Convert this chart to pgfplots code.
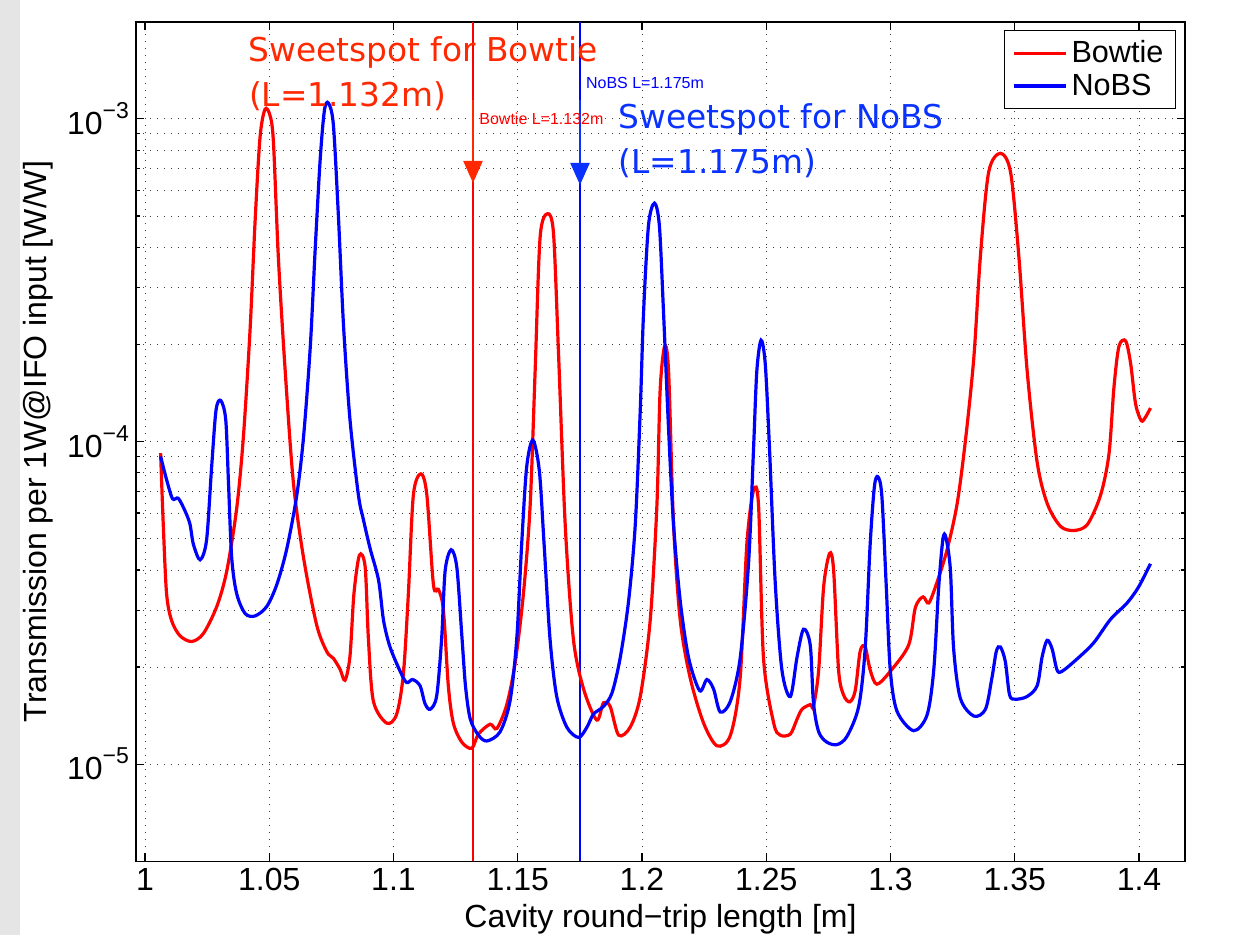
\documentclass[border=0pt]{standalone}
\usepackage{fontspec}
\setmainfont{Liberation Sans}
\newfontfamily\dejavu{DejaVu Sans}
\usepackage{pgfplots}
\pgfplotsset{compat=1.18}
\usetikzlibrary{arrows.meta}
\definecolor{annred}{RGB}{255,40,0}
\definecolor{annblue}{RGB}{10,50,255}
\begin{document}
\begin{tikzpicture}
\useasboundingbox (-68pt,-36.85pt) rectangle (550.5pt,430.65pt);
\fill[black!10] (-68pt,-36.85pt) rectangle (-58pt,430.65pt);
\begin{axis}[
  at={(0,0)}, anchor=south west,
  width=524.5pt, height=419.8pt, scale only axis,
  xmin=0.9964, xmax=1.4185, ymin=5e-6, ymax=2e-3, ymode=log,
  xtick={1,1.05,1.1,1.15,1.2,1.25,1.3,1.35,1.4},
  xticklabels={1,1.05,1.1,1.15,1.2,1.25,1.3,1.35,1.4},
  ytick={1e-5,1e-4,1e-3},
  yticklabels={{10\raisebox{8pt}{\fontsize{11.5}{12}\selectfont −5}},{10\raisebox{8pt}{\fontsize{11.5}{12}\selectfont −4}},{10\raisebox{8pt}{\fontsize{11.5}{12}\selectfont −3}}},
  tick label style={font=\fontsize{16}{19}\selectfont},
  label style={font=\fontsize{16}{19}\selectfont},
  xlabel={Cavity round−trip length [m]},
  ylabel={Transmission per 1W@IFO input [W/W]},
  axis line style={black, line width=0.8pt},
  tick style={black, line width=0.6pt},
  major tick length=4pt, minor tick length=2pt,
  tick align=inside,
  grid=both,
  major grid style={black!75, line width=0.4pt, dash pattern=on 0.5pt off 3pt},
  minor grid style={black!75, line width=0.4pt, dash pattern=on 0.5pt off 3pt},
  legend style={at={(1,1)}, anchor=north east, xshift=-4.5pt, yshift=-4.2pt, draw=black, line width=0.6pt, font=\fontsize{15.3}{18}\selectfont, inner xsep=4pt, inner ysep=3pt, cells={anchor=west}},
  legend image code/.code={\draw[#1] (0pt,0pt) -- (26pt,0pt);},
]
\addplot[red, line width=0.75pt, forget plot] coordinates {(1.132,5e-6) (1.132,2e-3)};
\addplot[blue, line width=0.75pt, forget plot] coordinates {(1.175,5e-6) (1.175,2e-3)};
\addplot[red, line width=1.6pt, smooth, tension=0.5] coordinates {
(1.0063,9.2e-5)(1.0074,5.46e-5)(1.0087,3.38e-5)(1.0107,2.79e-5)(1.0141,2.50e-5)(1.0188,2.40e-5)
(1.0235,2.54e-5)(1.0289,3.08e-5)(1.0329,3.96e-5)(1.0369,6.19e-5)(1.0396,1.03e-4)(1.0423,2.22e-4)
(1.0443,4.78e-4)(1.0463,8.75e-4)(1.0483,1.07e-3)(1.0503,1.026e-3)(1.0517,8.47e-4)(1.0537,3.70e-4)
(1.0564,1.67e-4)(1.0597,7.50e-5)(1.0638,4.37e-5)(1.0691,2.70e-5)(1.0732,2.23e-5)(1.0758,2.13e-5)
(1.0785,1.97e-5)(1.0805,1.82e-5)(1.0825,2.16e-5)(1.0841,3.38e-5)(1.0863,4.44e-5)(1.0886,4.09e-5)
(1.0899,2.46e-5)(1.0919,1.57e-5)(1.0973,1.34e-5)(1.1013,1.43e-5)(1.1040,1.91e-5)(1.1060,3.38e-5)
(1.1080,6.82e-5)(1.1110,7.94e-5)(1.1134,6.87e-5)(1.1161,3.59e-5)(1.1181,3.48e-5)(1.1201,3.00e-5)
(1.1221,1.74e-5)(1.1241,1.34e-5)(1.1275,1.17e-5)(1.1315,1.12e-5)(1.1342,1.24e-5)(1.1389,1.33e-5)
(1.1416,1.29e-5)(1.1456,1.53e-5)(1.1490,2.07e-5)(1.1523,3.38e-5)(1.1550,6.34e-5)(1.1570,1.65e-4)
(1.1590,4.29e-4)(1.1620,5.08e-4)(1.1644,4.41e-4)(1.1664,1.89e-4)(1.1691,5.53e-5)(1.1724,2.44e-5)
(1.1765,1.71e-5)(1.1818,1.37e-5)(1.1845,1.55e-5)(1.1872,1.51e-5)(1.1906,1.23e-5)(1.1952,1.30e-5)
(1.1993,1.62e-5)(1.2033,2.79e-5)(1.2060,6.34e-5)(1.2073,1.44e-4)(1.2091,1.97e-4)(1.2107,1.65e-4)
(1.2127,5.53e-5)(1.2154,2.79e-5)(1.2194,1.85e-5)(1.2248,1.34e-5)(1.2302,1.14e-5)(1.2356,1.23e-5)
(1.2395,1.85e-5)(1.2422,4.82e-5)(1.2449,7.06e-5)(1.2469,6.34e-5)(1.2489,2.13e-5)(1.2530,1.34e-5)
(1.2556,1.23e-5)(1.2597,1.24e-5)(1.2624,1.38e-5)(1.2644,1.48e-5)(1.2677,1.53e-5)(1.2690,1.51e-5)
(1.2711,1.96e-5)(1.2731,3.55e-5)(1.2755,4.50e-5)(1.2771,4.00e-5)(1.2791,1.96e-5)(1.2811,1.64e-5)
(1.2836,1.56e-5)(1.2858,1.69e-5)(1.2878,2.24e-5)(1.2898,2.31e-5)(1.2918,1.96e-5)(1.2945,1.77e-5)
(1.2999,1.94e-5)(1.3073,2.34e-5)(1.3100,3.06e-5)(1.3131,3.30e-5)(1.3154,3.16e-5)(1.3187,3.66e-5)
(1.3228,4.63e-5)(1.3268,6.41e-5)(1.3301,1.00e-4)(1.3335,1.81e-4)(1.3362,3.78e-4)(1.3395,6.84e-4)
(1.3442,7.82e-4)(1.3483,6.84e-4)(1.3516,3.78e-4)(1.3550,1.65e-4)(1.3590,8.63e-5)(1.3631,6.41e-5)
(1.3684,5.46e-5)(1.3738,5.30e-5)(1.3792,5.53e-5)(1.3845,6.81e-5)(1.3879,9.14e-5)(1.3899,1.47e-4)
(1.3919,1.97e-4)(1.3946,2.05e-4)(1.3966,1.75e-4)(1.3986,1.31e-4)(1.4009,1.16e-4)(1.4026,1.19e-4)
(1.4046,1.27e-4)
};
\addlegendentry{Bowtie}
\addplot[blue, line width=1.6pt, smooth, tension=0.5] coordinates {
(1.0063,8.99e-5)(1.0087,7.62e-5)(1.0111,6.65e-5)(1.0134,6.67e-5)(1.0161,6.10e-5)(1.0181,5.55e-5)
(1.0195,4.80e-5)(1.0222,4.30e-5)(1.0248,4.95e-5)(1.0268,8.26e-5)(1.0286,1.25e-4)(1.0305,1.34e-4)
(1.0325,1.17e-4)(1.0336,7.50e-5)(1.0349,4.37e-5)(1.0369,3.38e-5)(1.0403,2.93e-5)(1.0443,2.88e-5)
(1.0490,3.08e-5)(1.0531,3.61e-5)(1.0571,4.66e-5)(1.0611,6.82e-5)(1.0638,1.03e-4)(1.0665,1.95e-4)
(1.0685,3.94e-4)(1.0705,7.46e-4)(1.0722,1.06e-3)(1.0738,1.12e-3)(1.0758,9.62e-4)(1.0778,5.08e-4)
(1.0799,2.29e-4)(1.0825,1.17e-4)(1.0859,6.82e-5)(1.0879,5.73e-5)(1.0906,4.66e-5)(1.0940,3.72e-5)
(1.0960,2.79e-5)(1.0986,2.31e-5)(1.1027,1.94e-5)(1.1053,1.79e-5)(1.1077,1.83e-5)(1.1107,1.75e-5)
(1.1127,1.54e-5)(1.1148,1.48e-5)(1.1174,1.63e-5)(1.1194,2.46e-5)(1.1208,3.98e-5)(1.1232,4.62e-5)
(1.1255,4.07e-5)(1.1275,2.51e-5)(1.1290,1.74e-5)(1.1309,1.38e-5)(1.1342,1.23e-5)(1.1376,1.18e-5)
(1.1429,1.26e-5)(1.1469,1.57e-5)(1.1496,2.44e-5)(1.1516,4.82e-5)(1.1536,8.34e-5)(1.1561,1.01e-4)
(1.1587,8.11e-5)(1.1606,4.82e-5)(1.1630,2.44e-5)(1.1657,1.62e-5)(1.1698,1.30e-5)(1.1745,1.21e-5)
(1.1778,1.30e-5)(1.1805,1.43e-5)(1.1845,1.51e-5)(1.1879,1.66e-5)(1.1912,2.13e-5)(1.1946,3.20e-5)
(1.1973,5.53e-5)(1.1993,1.25e-4)(1.2006,2.48e-4)(1.2026,4.66e-4)(1.2050,5.48e-4)(1.2070,4.66e-4)
(1.2087,2.48e-4)(1.2107,1.09e-4)(1.2127,5.53e-5)(1.2154,3.20e-5)(1.2188,2.13e-5)(1.2232,1.69e-5)
(1.2261,1.83e-5)(1.2288,1.71e-5)(1.2315,1.45e-5)(1.2356,1.57e-5)(1.2395,2.13e-5)(1.2429,4.22e-5)
(1.2449,9.55e-5)(1.2462,1.65e-4)(1.2479,2.06e-4)(1.2496,1.74e-4)(1.2513,9.55e-5)(1.2536,3.67e-5)
(1.2563,1.96e-5)(1.2597,1.62e-5)(1.2624,2.15e-5)(1.2650,2.62e-5)(1.2677,2.34e-5)(1.2690,1.55e-5)
(1.2711,1.26e-5)(1.2744,1.17e-5)(1.2785,1.15e-5)(1.2825,1.22e-5)(1.2872,1.51e-5)(1.2898,2.28e-5)
(1.2918,4.78e-5)(1.2935,7.23e-5)(1.2949,7.78e-5)(1.2965,6.81e-5)(1.2983,3.55e-5)(1.2999,1.96e-5)
(1.3026,1.46e-5)(1.3093,1.27e-5)(1.3147,1.42e-5)(1.3174,1.96e-5)(1.3194,3.55e-5)(1.3211,4.99e-5)
(1.3223,5.04e-5)(1.3241,4.00e-5)(1.3254,2.28e-5)(1.3281,1.60e-5)(1.3335,1.41e-5)(1.3382,1.48e-5)
(1.3408,1.85e-5)(1.3426,2.24e-5)(1.3442,2.31e-5)(1.3462,2.08e-5)(1.3479,1.64e-5)(1.3502,1.59e-5)
(1.3549,1.62e-5)(1.3590,1.75e-5)(1.3610,2.15e-5)(1.3630,2.42e-5)(1.3650,2.28e-5)(1.3670,1.96e-5)
(1.3690,1.94e-5)(1.3751,2.12e-5)(1.3818,2.38e-5)(1.3885,2.81e-5)(1.3952,3.16e-5)(1.3999,3.55e-5)
(1.4046,4.18e-5)
};
\addlegendentry{NoBS}
\end{axis}
% annotations
\draw[annred, line width=1.1pt, -{Triangle[width=9.5pt,length=11pt]}] (168.5pt,380.65pt) -- (168.5pt,339.15pt);
\draw[annblue, line width=1.1pt, -{Triangle[width=9.5pt,length=11pt]}] (222pt,380.65pt) -- (222pt,338.15pt);
\node[anchor=base west, inner sep=0pt, text=annred, font=\dejavu\fontsize{16.4}{19}\selectfont] at (56pt,399.8pt) {Sweetspot for Bowtie};
\node[anchor=base west, inner sep=0pt, text=annred, font=\dejavu\fontsize{16.4}{19}\selectfont] at (56.3pt,377.3pt) {(L=1.132m)};
\node[anchor=base west, inner sep=0pt, text=annblue, font=\dejavu\fontsize{16.4}{19}\selectfont] at (241.15pt,366.5pt) {Sweetspot for NoBS};
\node[anchor=base west, inner sep=0pt, text=annblue, font=\dejavu\fontsize{16.4}{19}\selectfont] at (241.15pt,344pt) {(L=1.175m)};
\node[anchor=base west, inner sep=0pt, text=red, font=\fontsize{8}{9}\selectfont] at (171.5pt,368.5pt) {Bowtie L=1.132m};
\node[anchor=base west, inner sep=0pt, text=blue, font=\fontsize{8}{9}\selectfont] at (224.85pt,386.3pt) {NoBS L=1.175m};
\end{tikzpicture}
\end{document}
